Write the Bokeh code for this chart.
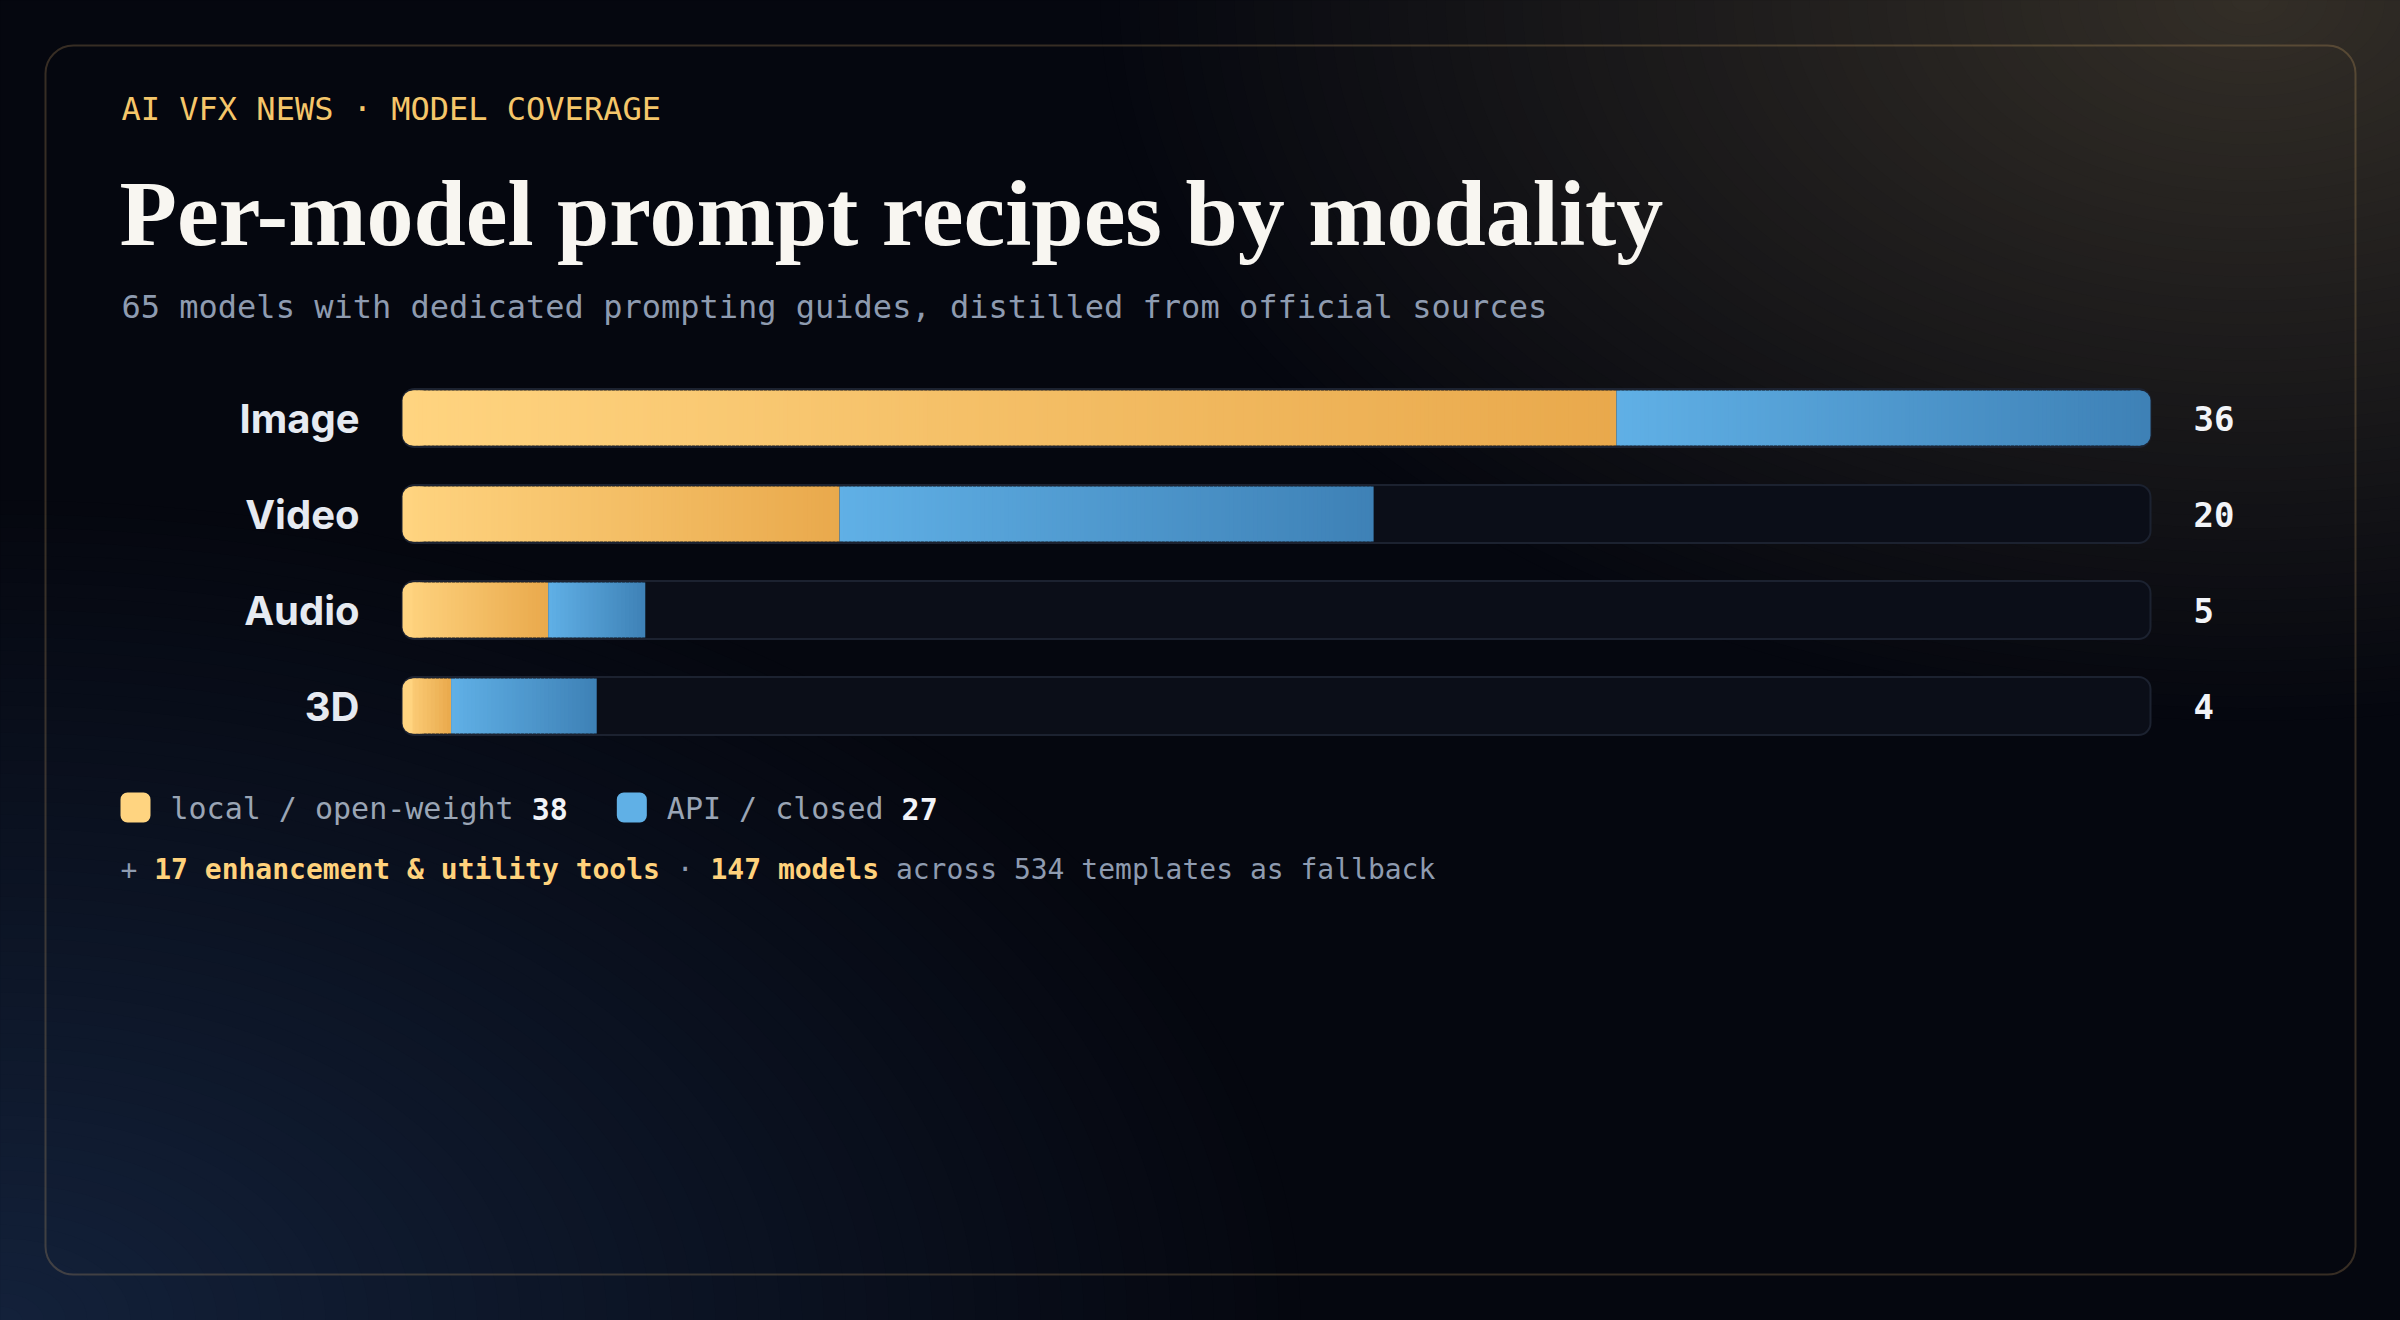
import numpy as np
from bokeh.plotting import figure
from bokeh.models import Range1d, ColumnDataSource
from bokeh.core.properties import value
from bokeh.embed import file_html
from bokeh.resources import INLINE

# ---------------- data ----------------
categories = ["Image", "Video", "Audio", "3D"]
local_open = [25, 9, 3, 1]
api_closed = [11, 11, 2, 3]
totals = [36, 20, 5, 4]
legend_labels = ["local / open-weight", "API / closed"]
legend_counts = [38, 27]
eyebrow_text = "AI VFX NEWS · MODEL COVERAGE"
title_text = "Per-model prompt recipes by modality"
subtitle_text = "65 models with dedicated prompting guides, distilled from official sources"
footer_parts = ["+ ", "17 enhancement & utility tools", " · ", "147 models",
                " across 534 templates as fallback"]
footer_accent = [False, True, False, True, False]

# ---------------- style / layout ----------------
W, H = 2400, 1320
BG = "#05070f"
ORANGE = ("#ffd480", "#e9a94c")
BLUE = ("#60b0e6", "#3e81b6")
MONO = "DejaVu Sans Mono"
SANS = "Inter"
SERIF = "Liberation Serif"
GRAY = "#8e9bb0"
AMBER = "#ffd27c"

LEFT = 121
TRACK_L, TRACK_R = 402, 2150
ROW0, PITCH = 417.5, 96
TRACK_H, FILL_H = 58, 55
R_TRACK, R_FILL = 12, 10

n = len(categories)
xmax = max(totals)
ppu = (TRACK_R - TRACK_L) / xmax
ypos = [n - 1 - i for i in range(n)]

p = figure(width=W, height=H, x_range=Range1d(0, W), y_range=Range1d(0, H),
           output_backend="svg", toolbar_location=None,
           x_axis_type=None, y_axis_type=None, min_border=0,
           outline_line_color=None, background_fill_color=BG, border_fill_color=BG)
p.extra_x_ranges = {"val": Range1d(-TRACK_L / ppu, (W - TRACK_L) / ppu)}
p.extra_y_ranges = {"cat": Range1d(n - 1 - (H - ROW0) / PITCH, n - 1 + ROW0 / PITCH)}


def hex2rgb(c):
    c = c.lstrip("#")
    return [int(c[i:i + 2], 16) for i in (0, 2, 4)]


def lerp(c0, c1, t):
    a, b = hex2rgb(c0), hex2rgb(c1)
    return "#%02x%02x%02x" % tuple(int(round(a[i] + (b[i] - a[i]) * t)) for i in range(3))


# solid backdrop, stacked so the partially covered edge pixels become fully dark
NB = 16
p.quad(left=[-50] * NB, right=[W + 50] * NB, bottom=[-50] * NB, top=[H + 50] * NB,
       fill_color=BG, line_color=None)


# ---------------- background glows (opaque concentric rings) ----------------
def glow(cx, cy_top, rx, ry, color, steps=60):
    s = 1 - np.arange(steps) / steps
    d = s - 0.5 / steps
    cols = [lerp(BG, color, 1 - di) for di in d]
    p.ellipse(x=[cx] * steps, y=[H - cy_top] * steps, width=2 * rx * s, height=2 * ry * s,
              fill_color=cols, line_color=None)


glow(2250, 0, 1150, 720, "#332e27")
glow(0, 1320, 1300, 820, "#13213a")

# card outline
p.quad(left=45, right=2355, top=H - 45, bottom=H - 1274, fill_color=None,
       line_color="#ffc878", line_alpha=0.2, line_width=2, border_radius=28)


# ---------------- texts (top) ----------------
def txt(x, center_top, s, font, size, color, style="normal", align="left"):
    p.text(x=[x], y=[H - center_top], text=[s], text_font=value(font),
           text_font_size=value(f"{size}px"), text_color=color, text_font_style=style,
           text_align=align, text_baseline="middle")


txt(LEFT, 108, eyebrow_text, MONO, 32, "#f5c66a")
txt(LEFT - 2, 212, title_text, SERIF, 94, "#f8f6f1", "bold")
txt(LEFT, 306, subtitle_text, MONO, 32, GRAY)

# ---------------- bars ----------------
kw = dict(x_range_name="val", y_range_name="cat")
p.hbar(y=ypos, left=[0] * n, right=[xmax] * n, height=TRACK_H / PITCH,
       fill_color="#0b0e18", line_color="#1c2230", line_width=2,
       border_radius=R_TRACK, **kw)

r_d = R_FILL / ppu
ovl = 1.0 / ppu
sl = dict(y=[], left=[], right=[], color=[])
lcap = dict(y=[], left=[], right=[], color=[])
rcap = dict(y=[], left=[], right=[], color=[])
for i in range(n):
    segs = [(0, local_open[i], ORANGE), (local_open[i], local_open[i] + api_closed[i], BLUE)]
    segs = [s for s in segs if s[1] > s[0]]
    tot = segs[-1][1]
    round_right = tot >= xmax
    first = segs[0]
    lcap["y"].append(ypos[i]); lcap["left"].append(0)
    lcap["right"].append(min(2 * r_d, first[1])); lcap["color"].append(first[2][0])
    if round_right:
        last = segs[-1]
        rcap["y"].append(ypos[i]); rcap["left"].append(max(tot - 2 * r_d, last[0]))
        rcap["right"].append(tot); rcap["color"].append(last[2][1])
    for (s0, s1, cols) in segs:
        lo = s0 + (r_d if s0 == 0 else 0)
        hi = s1 - (r_d if (round_right and s1 == tot) else 0)
        m = max(4, int((s1 - s0) * ppu / 4))
        edges = np.linspace(s0, s1, m + 1)
        for k in range(m):
            a, b = max(edges[k], lo), min(edges[k + 1], hi)
            if b <= a:
                continue
            t = ((a + b) / 2 - s0) / (s1 - s0)
            sl["y"].append(ypos[i]); sl["left"].append(a)
            sl["right"].append(b + ovl if b < hi - 1e-9 else b)
            sl["color"].append(lerp(cols[0], cols[1], t))

fh = FILL_H / PITCH
p.hbar(y="y", left="left", right="right", height=fh, fill_color="color", line_color=None,
       border_radius=(R_FILL, 0, 0, R_FILL), source=ColumnDataSource(lcap), **kw)
if rcap["y"]:
    p.hbar(y="y", left="left", right="right", height=fh, fill_color="color", line_color=None,
           border_radius=(0, R_FILL, R_FILL, 0), source=ColumnDataSource(rcap), **kw)
p.hbar(y="y", left="left", right="right", height=fh, fill_color="color", line_color=None,
       source=ColumnDataSource(sl), **kw)

# category labels and totals
p.text(x=[0] * n, y=ypos, text=categories, x_offset=-43, y_offset=0,
       text_align="right", text_baseline="middle", text_font=value(SANS),
       text_font_size=value("40px"), text_font_style="bold", text_color="#e6eaf1", **kw)
p.text(x=[xmax] * n, y=ypos, text=[str(t) for t in totals], x_offset=43, y_offset=0,
       text_align="left", text_baseline="middle", text_font=value(MONO),
       text_font_size=value("34px"), text_font_style="bold", text_color="#f2f4f8", **kw)

# ---------------- legend ----------------
LEG_FS = 30
adv = 0.602 * LEG_FS
x0 = 120
sw_colors = [ORANGE[0], BLUE[0]]
for lab, cnt, col in zip(legend_labels, legend_counts, sw_colors):
    p.quad(left=x0, right=x0 + 30, top=H - 792, bottom=H - 822, fill_color=col,
           line_color=None, border_radius=7)
    tx = x0 + 50
    txt(tx, 808, lab, MONO, LEG_FS, "#9aa5b5")
    nx = tx + (len(lab) + 1) * adv
    txt(nx, 808, str(cnt), MONO, LEG_FS, "#f2f4f8", "bold")
    x0 = nx + len(str(cnt)) * adv + 49

# ---------------- footer ----------------
FT_FS = 28
fadv = 0.602 * FT_FS
fx = 120
for part, acc in zip(footer_parts, footer_accent):
    lead = len(part) - len(part.lstrip(" "))
    txt(fx + lead * fadv, 869, part.strip(" "), MONO, FT_FS,
        AMBER if acc else GRAY, "bold" if acc else "normal")
    fx += len(part) * fadv

open("out.html", "w").write(file_html(p, INLINE))
